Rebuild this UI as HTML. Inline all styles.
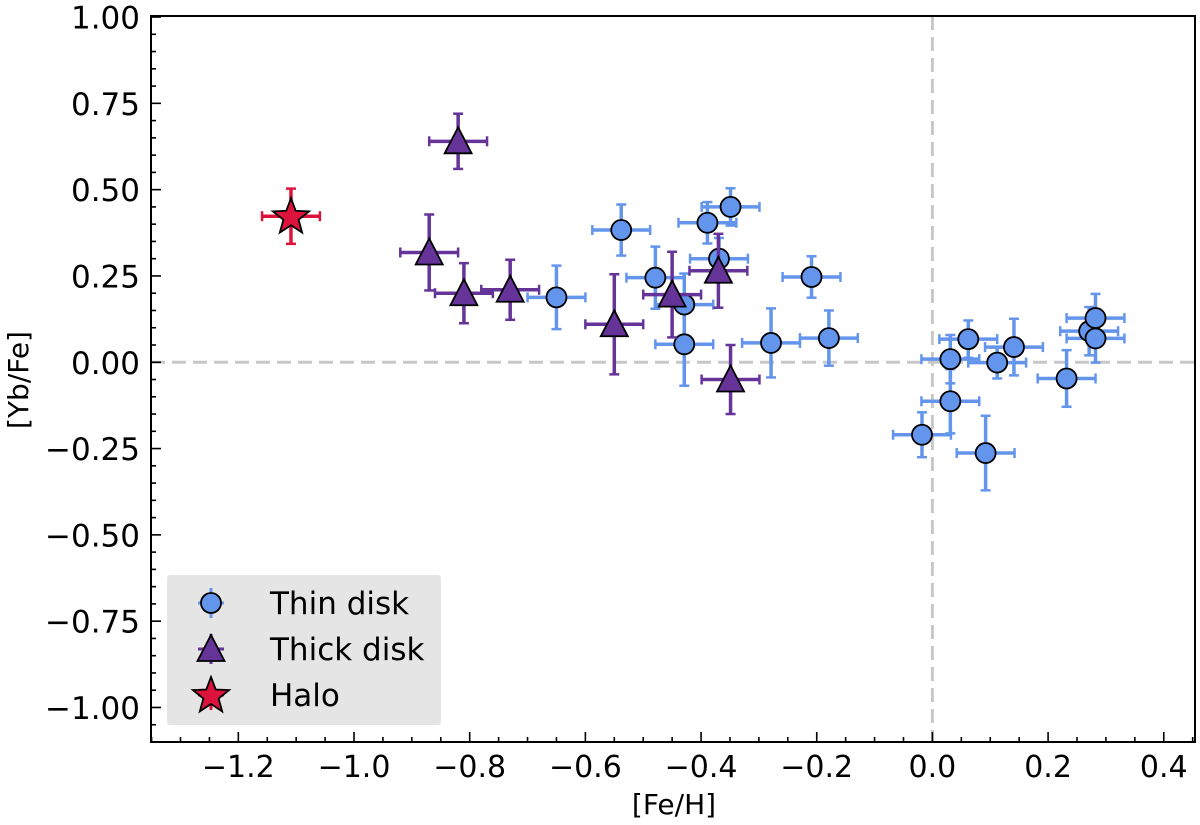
<!DOCTYPE html>
<html><head><meta charset="utf-8"><style>
body{margin:0;background:#fff}
svg{display:block;font-family:"DejaVu Sans","Liberation Sans",sans-serif}
</style></head><body>
<svg id="chart" width="1200" height="825" viewBox="0 0 1200 825" xmlns="http://www.w3.org/2000/svg"></svg>
<script>
const thinX=[-0.538,-0.65,-0.389,-0.349,-0.369,-0.479,-0.429,-0.429,-0.279,-0.209,-0.179,-0.018,0.031,0.031,0.062,0.112,0.141,0.092,0.232,0.271,0.282,0.282];
const thinY=[0.383,0.188,0.404,0.45,0.30,0.245,0.167,0.052,0.056,0.247,0.07,-0.21,0.009,-0.113,0.067,-0.001,0.044,-0.263,-0.047,0.09,0.128,0.069];
const thinYErr=[0.074,0.092,0.06,0.054,0.06,0.09,0.09,0.12,0.10,0.06,0.08,0.065,0.07,0.093,0.054,0.046,0.082,0.108,0.082,0.07,0.07,0.07];
const thickX=[-0.82,-0.87,-0.81,-0.73,-0.55,-0.45,-0.37,-0.349];
const thickY=[0.64,0.318,0.20,0.21,0.11,0.196,0.265,-0.05];
const thickYErr=[0.08,0.11,0.087,0.087,0.145,0.124,0.107,0.10];
const haloX=[-1.109];
const haloY=[0.423];
const haloYErr=[0.08];
const xErr=0.05;
const xTicks=[-1.2,-1.0,-0.8,-0.6,-0.4,-0.2,0.0,0.2,0.4];
const yTicks=[1.0,0.75,0.5,0.25,0.0,-0.25,-0.5,-0.75,-1.0];

const L=151,R=1195,T=16,B=742,X0=-1.351,X1=0.454,Y0=-1.10,Y1=1.003;
const sx=v=>L+(v-X0)/(X1-X0)*(R-L);
const sy=v=>B-(v-Y0)/(Y1-Y0)*(B-T);
const svg=document.getElementById('chart');
const NS='http://www.w3.org/2000/svg';
function mk(tag,attrs,parent){const e=document.createElementNS(NS,tag);for(const k in attrs)e.setAttribute(k,attrs[k]);(parent||svg).appendChild(e);return e;}
const fmt=v=>(v<0?'\u2212':'')+Math.abs(v).toFixed(1);
const fmt2=v=>(v<0?'\u2212':'')+Math.abs(v).toFixed(2);

let g=mk('g',{});


mk('line',{x1:L,x2:R,y1:sy(0),y2:sy(0),stroke:'#c8c8c8','stroke-width':3,'stroke-dasharray':'14,7'},g);
mk('line',{x1:sx(0),x2:sx(0),y1:T,y2:B,stroke:'#c8c8c8','stroke-width':3,'stroke-dasharray':'14,7'},g);

const tg=mk('g',{});


for(let i=-27;i<=9;i++){const v=i*0.05;const x=sx(v);if(x<L||x>R)continue;const maj=Math.abs(Math.round(v*5)-v*5)<1e-6;mk('line',{x1:x,x2:x,y1:B,y2:B-(maj?10:5),stroke:'#000','stroke-width':1.6},tg);}
for(let i=-22;i<=20;i++){const v=i*0.05;const y=sy(v);if(y<T||y>B)continue;const maj=Math.abs(Math.round(v*4)-v*4)<1e-6;mk('line',{x1:L,x2:L+(maj?10:5),y1:y,y2:y,stroke:'#000','stroke-width':1.6},tg);}
xTicks.forEach(v=>{const t=mk('text',{x:sx(v),y:777,'text-anchor':'middle','font-size':30},tg);t.textContent=fmt(v);});
yTicks.forEach(v=>{const t=mk('text',{x:140,y:sy(v)+11.5,'text-anchor':'end','font-size':31},tg);t.textContent=fmt2(v);});

let t=mk('text',{x:674,y:814,'text-anchor':'middle','font-size':28});
t.textContent='[Fe/H]';


t=mk('text',{x:0,y:0,'text-anchor':'middle','font-size':28,transform:'translate(28,380) rotate(-90)'});
t.textContent='[Yb/Fe]';



function errbar(x,y,xe,ye,col,parent){
  const cx=sx(x),cy=sy(y),x1=sx(x-xe),x2=sx(x+xe),y1=sy(y+ye),y2=sy(y-ye);
  mk('line',{x1:x1,x2:x2,y1:cy,y2:cy,stroke:col,'stroke-width':3.5},parent);
  mk('line',{x1:cx,x2:cx,y1:y1,y2:y2,stroke:col,'stroke-width':3.5},parent);
  [x1,x2].forEach(xx=>mk('line',{x1:xx,x2:xx,y1:cy-5,y2:cy+5,stroke:col,'stroke-width':2.5},parent));
  [y1,y2].forEach(yy=>mk('line',{x1:cx-5,x2:cx+5,y1:yy,y2:yy,stroke:col,'stroke-width':2.5},parent));
}
function circle(cx,cy,col,p){return mk('circle',{cx:cx,cy:cy,r:10,fill:col,stroke:'#000','stroke-width':1.8},p);}
function tri(cx,cy,col,p){return mk('polygon',{points:`${cx},${cy-14} ${cx-13.5},${cy+12} ${cx+13.5},${cy+12}`,fill:col,stroke:'#000','stroke-width':1.8},p);}
function star(cx,cy,col,p){let pts=[];for(let i=0;i<10;i++){const r=i%2?8:19;const a=-Math.PI/2+i*Math.PI/5;pts.push((cx+r*Math.cos(a)).toFixed(1)+','+(cy+r*Math.sin(a)+1).toFixed(1));}return mk('polygon',{points:pts.join(' '),fill:col,stroke:'#000','stroke-width':1.8},p);}

const thin='#6495ED',thick='#663399',halo='#DC143C';
const gThin=mk('g',{});
const gThick=mk('g',{});
const gHalo=mk('g',{});
thinX.forEach((x,i)=>{errbar(x,thinY[i],xErr,thinYErr[i],thin,gThin);});
thinX.forEach((x,i)=>{const c=circle(sx(x),sy(thinY[i]),thin,gThin);});
thickX.forEach((x,i)=>{errbar(x,thickY[i],xErr,thickYErr[i],thick,gThick);const m=tri(sx(x),sy(thickY[i]),thick,gThick);});
haloX.forEach((x,i)=>{errbar(x,haloY[i],xErr,haloYErr[i],halo,gHalo);const m=star(sx(x),sy(haloY[i]),halo,gHalo);});

const fr=mk('rect',{x:L,y:T,width:R-L,height:B-T,fill:'none',stroke:'#000','stroke-width':2});



const lg=mk('g',{});


mk('rect',{x:167,y:575,width:274,height:150,fill:'#e5e5e5',rx:3},lg);
const ents=[['Thin disk',thin,circle,603],['Thick disk',thick,tri,649],['Halo',halo,star,695]];
ents.forEach(([lab,col,fn,y])=>{
  const eg=mk('g',{},lg);
  
  
  mk('line',{x1:198,x2:224,y1:y,y2:y,stroke:col,'stroke-width':3},eg);
  mk('line',{x1:211,x2:211,y1:y-15,y2:y+15,stroke:col,'stroke-width':3},eg);
  fn(211,y,col,eg);
  const tx=mk('text',{x:270,y:y+11,'font-size':31},eg);tx.textContent=lab;
});
</script>
</body></html>
